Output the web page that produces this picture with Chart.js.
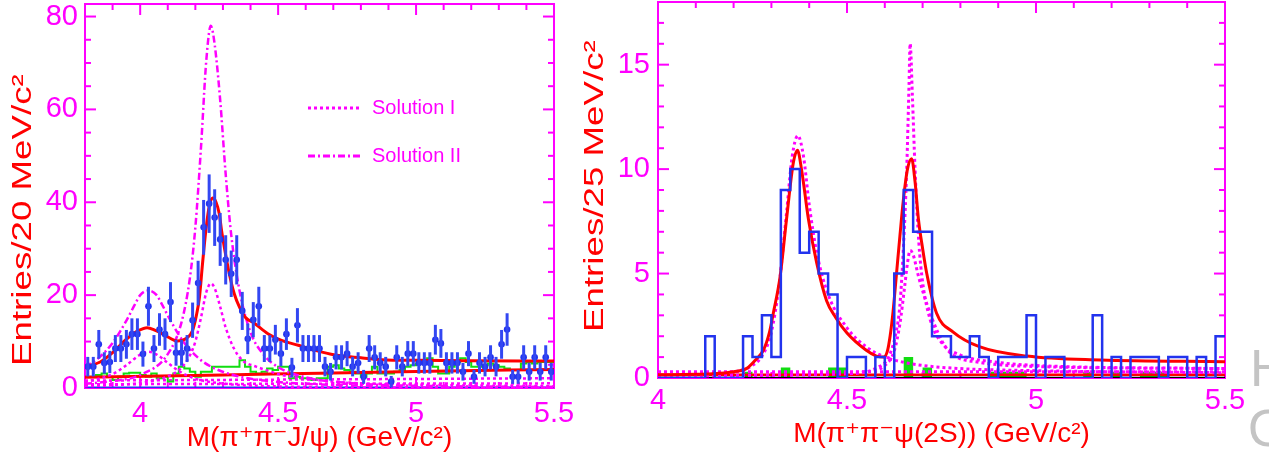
<!DOCTYPE html>
<html>
<head>
<meta charset="utf-8">
<title>M(π⁺π⁻J/ψ) / M(π⁺π⁻ψ(2S))</title>
<script src="https://cdn.jsdelivr.net/npm/chart.js@4.4.1/dist/chart.umd.min.js"></script>
<style>
    html, body { margin: 0; padding: 0; background: #fff; }
    #wrap { position: relative; width: 1269px; height: 461px; overflow: hidden; }
    canvas { position: absolute; top: 0; }
    #jpsiChart { left: 0; }
    #psi2sChart { left: 576px; }
</style>
</head>
<body>
<div id="wrap">
    <canvas id="jpsiChart" width="576" height="461"></canvas>
    <canvas id="psi2sChart" width="693" height="461"></canvas>
</div>
<script>
// ======================== Left panel data: M(π+π-J/ψ), 20 MeV bins ========================

const jpsiBinStart = 3.8;
const jpsiBinWidth = 0.02;

// entries per bin
const jpsiCounts = [
    4.6, 4.6, 9.4, 5.4, 5.6, 8.5, 8.5, 9.4, 11.6, 11.6,
    7.3, 17.6, 8.5, 12.6, 11.6, 18.5, 7.6, 7.6, 8.5, 14.6,
    22.6, 34.6, 39.7, 36.7, 32.0, 27.6, 24.6, 27.6, 16.6, 10.6,
    14.7, 17.6, 8.5, 8.5, 10.4, 7.4, 11.6, 4.4, 13.5, 8.5,
    8.5, 8.5, 8.5, 4.6, 3.5, 6.6, 6.6, 7.4, 4.6, 5.4,
    2.4, 8.5, 6.6, 5.4, 4.6, 1.4, 6.6, 4.6, 7.4, 7.4,
    5.4, 5.4, 5.4, 10.4, 9.6, 5.4, 5.4, 5.4, 3.5, 7.4,
    2.4, 5.4, 4.6, 6.6, 4.6, 9.4, 12.6, 2.4, 2.4, 6.6,
    3.5, 6.6, 3.5, 6.6, 3.5
];

// half length of each error bar
const jpsiErrors = [
    2.1, 2.1, 3.1, 2.3, 2.4, 2.9, 2.9, 3.1, 3.4, 3.4,
    2.7, 4.2, 2.9, 3.5, 3.4, 4.3, 2.8, 2.8, 2.9, 3.8,
    4.8, 5.9, 6.3, 6.1, 5.7, 5.3, 5.0, 5.3, 4.1, 3.3,
    3.8, 4.2, 2.9, 2.9, 3.2, 2.7, 3.4, 2.1, 3.7, 2.9,
    2.9, 2.9, 2.9, 2.1, 1.9, 2.6, 2.6, 2.7, 2.1, 2.3,
    1.5, 2.9, 2.6, 2.3, 2.1, 1.2, 2.6, 2.1, 2.7, 2.7,
    2.3, 2.3, 2.3, 3.2, 3.1, 2.3, 2.3, 2.3, 1.9, 2.7,
    1.5, 2.3, 2.1, 2.6, 2.1, 3.1, 3.5, 1.5, 1.5, 2.6,
    1.9, 2.6, 1.9, 2.6, 1.9
];

// green sideband histogram
const jpsiSideband = [
    2.4, 2.4, 2.8, 3.1, 2.4, 1.7, 2.4, 3.1, 3.3, 3.3,
    2.8, 2.4, 3.1, 2.1, 2.4, 1.4, 3.1, 4.6, 4.2, 3.5,
    2.4, 3.5, 3.5, 4.6, 4.6, 4.6, 4.6, 4.6, 6.0, 4.6,
    3.5, 3.1, 3.5, 4.2, 3.9, 4.6, 4.6, 2.1, 2.4, 2.1,
    2.1, 1.7, 2.1, 2.1, 4.6, 4.9, 4.2, 3.9, 3.5, 3.1,
    2.4, 3.1, 4.6, 3.1, 3.1, 3.1, 3.5, 3.9, 4.6, 4.9,
    5.3, 5.6, 6.4, 4.6, 3.1, 3.1, 4.6, 5.6, 6.4, 5.6,
    4.6, 4.6, 4.9, 5.3, 4.9, 4.6, 4.2, 3.9, 3.9, 5.3,
    5.6, 5.3, 5.6, 5.6, 5.6
];

// total fit (solid red)
const jpsiFitX = [3.80, 3.855, 3.90, 3.95, 3.995, 4.025, 4.055, 4.10, 4.135, 4.165, 4.19, 4.205, 4.215, 4.226, 4.238, 4.25, 4.262, 4.275, 4.287, 4.295, 4.305, 4.323, 4.341, 4.36, 4.38, 4.415, 4.463, 4.51, 4.573, 4.634, 4.707, 4.80, 4.877, 5.00, 5.20, 5.50];
const jpsiFitY = [4.6, 5.6, 7.6, 10.5, 12.4, 13.0, 12.4, 11.0, 10.1, 10.6, 12.4, 16.0, 19.6, 26.8, 33.9, 39.0, 40.9, 40.0, 37.4, 33.9, 30.3, 24.6, 20.3, 17.4, 15.3, 13.9, 11.7, 10.3, 9.2, 8.1, 7.1, 6.5, 6.1, 5.95, 5.85, 5.8];

// background of the fit (lower red line)
const jpsiBkgX = [3.80, 4.30, 4.65, 5.00, 5.50];
const jpsiBkgY = [2.3, 2.8, 3.2, 3.55, 4.0];

// Solution I components (dotted)
const solILowX = [3.80, 3.90, 3.95, 4.00, 4.03, 4.06, 4.10, 4.15, 4.20, 4.30, 4.50, 5.00, 5.50];
const solILowY = [1.3, 3.0, 4.9, 7.2, 7.8, 7.2, 5.4, 3.3, 2.0, 0.95, 0.35, 0.1, 0.05];
const solIHighX = [3.80, 3.90, 4.00, 4.10, 4.15, 4.18, 4.20, 4.22, 4.24, 4.256, 4.27, 4.29, 4.31, 4.34, 4.37, 4.42, 4.46, 4.50, 4.60, 4.80, 5.00, 5.50];
const solIHighY = [0.4, 0.6, 1.1, 2.5, 4.4, 7.0, 10.0, 15.0, 20.7, 22.5, 21.5, 17.5, 13.0, 8.5, 6.0, 4.6, 3.8, 3.0, 2.0, 1.0, 0.7, 0.4];

// Solution II components (dash-dot)
const solIILowX = [3.80, 3.85, 3.90, 3.95, 3.98, 4.00, 4.03, 4.06, 4.08, 4.11, 4.16, 4.21, 4.26, 4.35, 4.45, 4.60, 4.80, 5.10, 5.50];
const solIILowY = [4.5, 6.5, 9.7, 14.5, 17.9, 20.0, 21.0, 20.0, 17.9, 14.5, 9.7, 6.5, 4.5, 2.6, 1.6, 0.9, 0.5, 0.3, 0.2];
const solIIHighX = [3.80, 3.90, 4.00, 4.10, 4.15, 4.18, 4.20, 4.22, 4.24, 4.256, 4.27, 4.29, 4.31, 4.33, 4.36, 4.40, 4.45, 4.50, 4.60, 4.80, 5.10, 5.50];
const solIIHighY = [0.9, 1.5, 2.8, 7.3, 14.2, 23.6, 34.6, 51.4, 70.8, 78.0, 74.0, 62.0, 46.0, 33.0, 21.0, 12.0, 7.0, 4.5, 2.3, 0.9, 0.4, 0.2];

// flat background components near the bottom (dotted)
const jpsiFlatX = [3.80, 4.50, 5.50];
const jpsiFlatAY = [1.6, 1.8, 2.1];
const jpsiFlatBY = [0.8, 0.9, 1.0];

const jpsiXTicks = [4, 4.5, 5, 5.5];
const jpsiYTicks = [0, 20, 40, 60, 80];

// ======================== Right panel data: M(π+π-ψ(2S)), 25 MeV bins ========================

const psi2sBinStart = 4.0;
const psi2sBinWidth = 0.025;

const psi2sCounts = [
    0, 0, 0, 0, 0, 2, 0, 0, 0, 2,
    1, 3, 1, 9, 10, 6, 7, 5, 4, 0,
    1, 1, 0, 1, 0, 5, 9, 7, 7, 2,
    2, 1, 1, 2, 1, 0, 1, 1, 1, 3,
    0, 1, 1, 0, 0, 0, 3, 0, 1, 0,
    1, 1, 1, 0, 1, 1, 0, 1, 0, 2
];

const psi2sSideband = [
    0, 0, 0, 0, 0, 0, 0, 0, 0, 0.3,
    0, 0, 0, 0.5, 0, 0, 0, 0, 0.5, 0.5,
    0, 0, 0, 0, 0, 0, 1.0, 0, 0.5, 0,
    0, 0, 0, 0, 0, 0.3, 0.3, 0.3, 0.3, 0,
    0, 0, 0, 0, 0, 0.3, 0, 0, 0.3, 0,
    0, 0.3, 0.3, 0.3, 0, 0, 0, 0, 0, 0
];

const psi2sFitX = [4.00, 4.10, 4.146, 4.20, 4.235, 4.26, 4.279, 4.295, 4.305, 4.323, 4.34, 4.358, 4.369, 4.38, 4.398, 4.42, 4.446, 4.47, 4.50, 4.55, 4.578, 4.597, 4.607, 4.614, 4.622, 4.631, 4.64, 4.649, 4.66, 4.671, 4.68, 4.689, 4.70, 4.711, 4.737, 4.781, 4.85, 4.976, 5.17, 5.50];
const psi2sFitY = [0.15, 0.18, 0.2, 0.3, 0.46, 0.9, 1.34, 2.2, 3.1, 4.85, 7.6, 10.3, 10.9, 9.95, 7.6, 5.5, 3.7, 2.9, 2.15, 1.34, 1.05, 1.0, 1.3, 2.0, 3.2, 5.0, 6.8, 8.5, 10.0, 10.5, 9.4, 7.6, 6.2, 5.0, 3.1, 2.2, 1.5, 1.05, 0.86, 0.78];

// resonance components of the two solutions (dotted)
const psi2sCompAX = [4.00, 4.20, 4.25, 4.28, 4.30, 4.32, 4.34, 4.355, 4.37, 4.385, 4.40, 4.42, 4.45, 4.50, 4.55, 4.60, 4.65, 4.70, 4.80, 5.00, 5.50];
const psi2sCompAY = [0.1, 0.3, 0.6, 1.2, 2.2, 4.4, 7.9, 10.6, 11.6, 10.6, 8.3, 6.0, 4.0, 2.4, 1.5, 1.0, 0.75, 0.6, 0.45, 0.35, 0.25];
const psi2sCompBX = [4.00, 4.50, 4.58, 4.61, 4.63, 4.64, 4.65, 4.658, 4.664, 4.667, 4.673, 4.68, 4.69, 4.70, 4.72, 4.75, 4.80, 4.90, 5.00, 5.50];
const psi2sCompBY = [0.1, 0.2, 0.5, 1.0, 2.2, 3.5, 6.5, 10.0, 14.0, 16.0, 13.5, 10.0, 6.5, 4.6, 2.8, 1.7, 1.1, 0.75, 0.6, 0.45];
const psi2sCompCX = [4.00, 4.55, 4.60, 4.625, 4.64, 4.652, 4.66, 4.667, 4.675, 4.69, 4.714, 4.74, 4.76, 4.78, 4.85, 5.00, 5.50];
const psi2sCompCY = [0.1, 0.3, 0.6, 1.3, 2.6, 4.3, 5.5, 6.1, 5.9, 4.8, 3.4, 2.2, 1.5, 1.1, 0.75, 0.55, 0.45];

const psi2sFlatX = [4.0, 5.5];
const psi2sFlatDotY = [0.3, 0.3];
const psi2sFlatRedY = [0.15, 0.15];
const psi2sZeroY = [0, 0];

const psi2sXTicks = [4, 4.5, 5, 5.5];
const psi2sYTicks = [0, 5, 10, 15];

// ======================== Styles ========================

const MAGENTA = '#ff00ff';
const RED = '#ff0000';
const BLUE = '#2233ee';
const GREEN = '#11dd11';
const FONT = '"Liberation Sans", Arial, "DejaVu Sans", sans-serif';
const DOT = [3, 3];
const DASH_DOT = [7, 3, 2, 3];

// ======================== Helpers ========================

// pair two arrays into {x, y} points
function xy(xs, ys) {
    return xs.map((x, i) => ({ x: x, y: ys[i] }));
}

// bin lower edges plus the final upper edge, for stepped histograms
function binEdges(start, width, values) {
    const pts = values.map((v, i) => ({ x: start + width * i, y: v }));
    pts.push({ x: start + width * values.length, y: values[values.length - 1] });
    return pts;
}

function binCenters(start, width, values) {
    return values.map((v, i) => ({ x: start + width * (i + 0.5), y: v }));
}

function curve(label, pts, color, width, dash) {
    return {
        label: label,
        data: pts,
        borderColor: color,
        borderWidth: width,
        borderDash: dash || [],
        pointRadius: 0,
        fill: false,
        cubicInterpolationMode: 'monotone'
    };
}

function histo(label, pts, color, width) {
    return {
        label: label,
        data: pts,
        stepped: true,
        borderColor: color,
        borderWidth: width,
        pointRadius: 0,
        fill: false
    };
}

// ======================== Plugins ========================

// magenta frame with inside ticks on all four sides (ROOT style)
function makeFramePlugin(cfg) {
    return {
        id: 'frameTicks',
        beforeDatasetsDraw(chart) {
            const { ctx, chartArea: a, scales: { x, y } } = chart;
            ctx.save();
            ctx.strokeStyle = MAGENTA;
            ctx.lineWidth = 2;
            ctx.strokeRect(a.left, a.top, a.right - a.left, a.bottom - a.top);

            const isMajor = (list, v) => list.some(m => Math.abs(m - v) < 1e-6);
            const line = (x1, y1, x2, y2) => {
                ctx.beginPath();
                ctx.moveTo(x1, y1);
                ctx.lineTo(x2, y2);
                ctx.stroke();
            };

            const nx = Math.round((x.max - x.min) / cfg.xMinor);
            for (let i = 0; i <= nx; i++) {
                const v = x.min + i * cfg.xMinor;
                const px = x.getPixelForValue(v);
                const len = isMajor(cfg.xMajor, v) ? 11 : 6;
                line(px, a.bottom, px, a.bottom - len);
                line(px, a.top, px, a.top + len);
            }

            const ny = Math.floor((y.max - y.min) / cfg.yMinor + 1e-6);
            for (let i = 0; i <= ny; i++) {
                const v = y.min + i * cfg.yMinor;
                const py = y.getPixelForValue(v);
                const len = isMajor(cfg.yMajor, v) ? 11 : 6;
                line(a.left, py, a.left + len, py);
                line(a.right, py, a.right - len, py);
            }
            ctx.restore();
        }
    };
}

// vertical error bars for datasets carrying an errorBars array
const errorBarPlugin = {
    id: 'errorBars',
    afterDatasetsDraw(chart) {
        const { ctx, scales: { y } } = chart;
        ctx.save();
        chart.data.datasets.forEach((ds, di) => {
            if (!ds.errorBars) return;
            const meta = chart.getDatasetMeta(di);
            ctx.strokeStyle = '#3347f2';
            ctx.lineWidth = 3;
            meta.data.forEach((pt, i) => {
                const v = ds.data[i].y;
                const e = ds.errorBars[i];
                ctx.beginPath();
                ctx.moveTo(pt.x, y.getPixelForValue(v - e));
                ctx.lineTo(pt.x, y.getPixelForValue(v + e));
                ctx.stroke();
            });
        });
        ctx.restore();
    }
};

// rotated y title, stretched along its baseline like the original
function makeYTitlePlugin(cfg) {
    return {
        id: 'yTitle',
        afterDraw(chart) {
            const ctx = chart.ctx;
            ctx.save();
            ctx.translate(cfg.x, cfg.bottom);
            ctx.rotate(-Math.PI / 2);
            ctx.scale(cfg.stretch, 1);
            ctx.font = cfg.size + 'px ' + FONT;
            ctx.fillStyle = RED;
            ctx.textAlign = 'left';
            ctx.textBaseline = 'middle';
            ctx.fillText(cfg.text, 0, 0);
            ctx.restore();
        }
    };
}

// "Solution I / II" legend inside the left frame
const legendEntries = [
    { text: 'Solution I', dash: DOT, y: 108 },
    { text: 'Solution II', dash: DASH_DOT, y: 156 }
];

const legendPlugin = {
    id: 'solLegend',
    afterDraw(chart) {
        const ctx = chart.ctx;
        ctx.save();
        ctx.strokeStyle = MAGENTA;
        ctx.fillStyle = MAGENTA;
        ctx.lineWidth = 3;
        ctx.font = '20px ' + FONT;
        ctx.textBaseline = 'middle';
        legendEntries.forEach(e => {
            ctx.setLineDash(e.dash);
            ctx.beginPath();
            ctx.moveTo(308, e.y);
            ctx.lineTo(361, e.y);
            ctx.stroke();
            ctx.fillText(e.text, 372, e.y);
        });
        ctx.restore();
    }
};

// cut-off grey letters at the right edge of the picture
const edgeLettersPlugin = {
    id: 'edgeLetters',
    afterDraw(chart) {
        const ctx = chart.ctx;
        ctx.save();
        ctx.fillStyle = '#c4c4c4';
        ctx.font = '52px ' + FONT;
        ctx.textBaseline = 'alphabetic';
        ctx.fillText('H', 674, 386);
        ctx.fillText('O', 672, 446);
        ctx.fillText('T', 672, 500);
        ctx.restore();
    }
};

// ======================== Shared axis options ========================

function xScale(min, max, ticks, title, titlePad, labelPad, height) {
    return {
        type: 'linear',
        min: min,
        max: max,
        grid: { display: false, drawTicks: false },
        border: { display: false },
        afterBuildTicks: s => { s.ticks = ticks.map(v => ({ value: v })); },
        ticks: {
            color: MAGENTA,
            font: { family: FONT, size: 29 },
            padding: labelPad,
            maxRotation: 0,
            autoSkip: false,
            callback: v => String(v)
        },
        title: {
            display: true,
            text: title,
            color: RED,
            font: { family: FONT, size: 28 },
            padding: { top: 0, bottom: titlePad }
        },
        afterFit: s => { s.height = height; s.paddingLeft = 0; s.paddingRight = 0; }
    };
}

function yScale(max, ticks, width, labelPad) {
    return {
        type: 'linear',
        min: 0,
        max: max,
        grid: { display: false, drawTicks: false },
        border: { display: false },
        afterBuildTicks: s => { s.ticks = ticks.map(v => ({ value: v })); },
        ticks: {
            color: MAGENTA,
            font: { family: FONT, size: 29 },
            padding: labelPad,
            autoSkip: false,
            callback: v => String(v)
        },
        afterFit: s => { s.width = width; s.paddingTop = 0; s.paddingBottom = 0; }
    };
}

const baseOptions = {
    responsive: false,
    animation: false,
    devicePixelRatio: 1,
    events: [],
    plugins: {
        legend: { display: false },
        tooltip: { enabled: false }
    }
};

// ======================== Left chart ========================

new Chart(document.getElementById('jpsiChart'), {
    type: 'line',
    data: {
        datasets: [
            {
                label: 'Data',
                data: binCenters(jpsiBinStart, jpsiBinWidth, jpsiCounts),
                errorBars: jpsiErrors,
                showLine: false,
                pointRadius: 3.3,
                pointBorderWidth: 0,
                pointBackgroundColor: BLUE,
                borderColor: BLUE
            },
            curve('Fit', xy(jpsiFitX, jpsiFitY), RED, 3),
            curve('Solution I low', xy(solILowX, solILowY), MAGENTA, 2.5, DOT),
            curve('Solution I high', xy(solIHighX, solIHighY), MAGENTA, 2.5, DOT),
            curve('Solution II low', xy(solIILowX, solIILowY), MAGENTA, 2.5, DASH_DOT),
            curve('Solution II high', xy(solIIHighX, solIIHighY), MAGENTA, 2.5, DASH_DOT),
            curve('Background', xy(jpsiBkgX, jpsiBkgY), RED, 3),
            histo('Sideband', binEdges(jpsiBinStart, jpsiBinWidth, jpsiSideband), GREEN, 2),
            curve('Flat A', xy(jpsiFlatX, jpsiFlatAY), MAGENTA, 2.5, DOT),
            curve('Flat B', xy(jpsiFlatX, jpsiFlatBY), MAGENTA, 2.5, DOT),
            curve('Zero', xy([3.8, 5.5], [0, 0]), BLUE, 3)
        ]
    },
    options: {
        ...baseOptions,
        layout: { padding: { top: 2, right: 22, left: 0, bottom: 0 } },
        scales: {
            x: xScale(3.8, 5.5, jpsiXTicks, 'M(π⁺π⁻J/ψ) (GeV/c²)', 6, 9, 73),
            y: yScale(82.7, jpsiYTicks, 85, 7)
        }
    },
    plugins: [
        makeFramePlugin({ xMinor: 0.1, xMajor: jpsiXTicks, yMinor: 5, yMajor: jpsiYTicks }),
        errorBarPlugin,
        legendPlugin,
        makeYTitlePlugin({ text: 'Entries/20 MeV/c²', x: 24, bottom: 366, size: 27, stretch: 1.36 })
    ]
});

// ======================== Right chart ========================

new Chart(document.getElementById('psi2sChart'), {
    type: 'line',
    data: {
        datasets: [
            histo('Data', binEdges(psi2sBinStart, psi2sBinWidth, psi2sCounts), BLUE, 2.5),
            curve('Fit', xy(psi2sFitX, psi2sFitY), RED, 3),
            curve('Component A', xy(psi2sCompAX, psi2sCompAY), MAGENTA, 3, DOT),
            curve('Component B', xy(psi2sCompBX, psi2sCompBY), MAGENTA, 3, DOT),
            curve('Component C', xy(psi2sCompCX, psi2sCompCY), MAGENTA, 3, DOT),
            curve('Flat', xy(psi2sFlatX, psi2sFlatDotY), MAGENTA, 3, DOT),
            curve('Background', xy(psi2sFlatX, psi2sFlatRedY), RED, 2.5),
            curve('Zero', xy(psi2sFlatX, psi2sZeroY), '#000000', 2.5),
            {
                label: 'Sideband',
                data: binEdges(psi2sBinStart, psi2sBinWidth, psi2sSideband),
                stepped: true,
                borderWidth: 0,
                borderColor: GREEN,
                backgroundColor: GREEN,
                pointRadius: 0,
                fill: 'origin'
            }
        ]
    },
    options: {
        ...baseOptions,
        layout: { padding: { top: 2, right: 44, left: 0, bottom: 0 } },
        scales: {
            x: xScale(4.0, 5.5, psi2sXTicks, 'M(π⁺π⁻ψ(2S)) (GeV/c²)', 10, 6, 83),
            y: yScale(18, psi2sYTicks, 82, 8)
        }
    },
    plugins: [
        makeFramePlugin({ xMinor: 0.1, xMajor: psi2sXTicks, yMinor: 1, yMajor: psi2sYTicks }),
        edgeLettersPlugin,
        makeYTitlePlugin({ text: 'Entries/25 MeV/c²', x: 20, bottom: 332, size: 27, stretch: 1.36 })
    ]
});
</script>
</body>
</html>
